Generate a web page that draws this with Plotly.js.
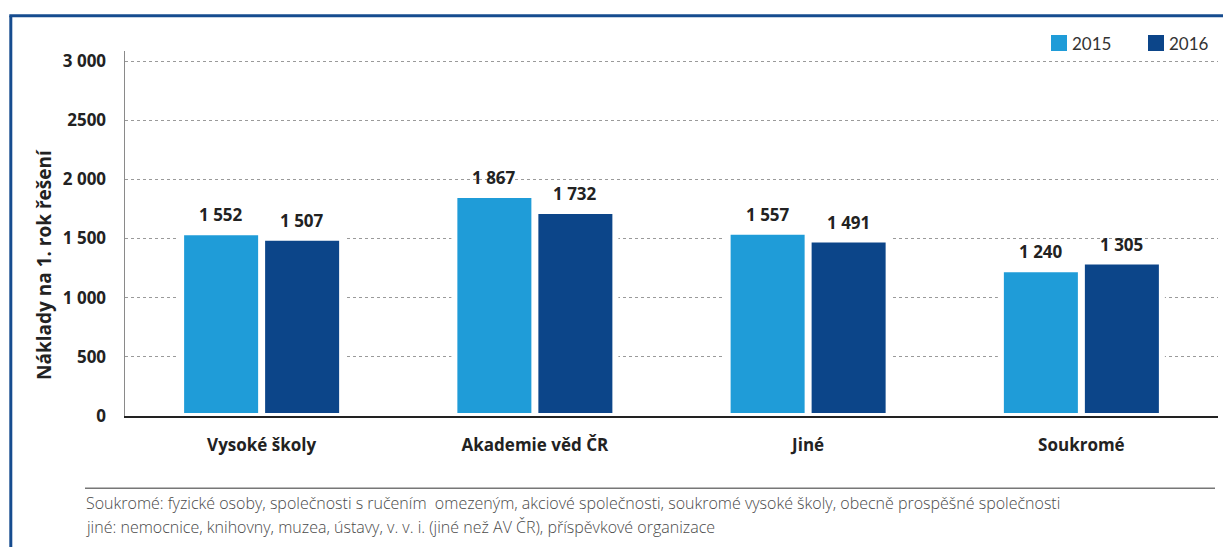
<!DOCTYPE html>
<html><head><meta charset="utf-8">
<script src="https://cdn.plot.ly/plotly-3.0.1.min.js"></script>
<style>html,body{margin:0;padding:0;background:#fff;} #chart{width:1223px;height:547px;}</style>
</head><body><div id="chart"></div>
<script>
const categories = ['Vysoké školy', 'Akademie věd ČR', 'Jiné', 'Soukromé'];
const seriesNames = ['2015', '2016'];
const values2015 = [1552, 1867, 1557, 1240];
const values2016 = [1507, 1732, 1491, 1305];
const valueLabels2015 = ['1 552', '1 867', '1 557', '1 240'];
const valueLabels2016 = ['1 507', '1 732', '1 491', '1 305'];
const yTickValues = [0, 500, 1000, 1500, 2000, 2500, 3000];
const yTickLabels = ['0', '500', '1 000', '1 500', '2 000', '2500', '3 000'];
const yAxisTitle = 'Náklady na 1. rok řešení';
const footnotes = [
  'Soukromé: fyzické osoby, společnosti s ručením \u00a0omezeným, akciové společnosti, soukromé vysoké školy, obecně prospěšné společnosti',
  'jiné: nemocnice, knihovny, muzea, ústavy, v. v. i. (jiné než AV ČR), příspěvkové organizace'
];

const colors = ['#1f9cd8', '#0c4589'];
const FONT = '"Open Sans", Lato, "DejaVu Sans", sans-serif';
const boldFont = {family: FONT, size: 17, color: '#222', weight: 700};

const L = 125, R = 5, T = 51, B = 131, W = 1223, H = 547;
const pw = W - L - R, ph = H - T - B;
const px = p => (p - L) / pw;
const py = p => (H - B - p) / ph;

const seriesValues = [values2015, values2016];
const seriesLabels = [valueLabels2015, valueLabels2016];

const traces = seriesNames.map((n, k) => ({
  type: 'bar', name: n, x: categories, y: seriesValues[k],
  marker: {color: colors[k], line: {color: '#ffffff', width: 6}},
  showlegend: false, hoverinfo: 'skip'
}));

const annotations = [];
seriesNames.forEach((n, k) => {
  categories.forEach((c, i) => {
    annotations.push({
      x: c, y: seriesValues[k][i], xref: 'x', yref: 'y',
      xshift: k === 0 ? -40.5 : 40.5, yshift: 4, yanchor: 'bottom', xanchor: 'center',
      text: seriesLabels[k][i], showarrow: false, font: boldFont
    });
  });
});
annotations.push({
  xref: 'paper', yref: 'paper', x: px(44), y: py(265), textangle: -90,
  xanchor: 'center', yanchor: 'middle', text: yAxisTitle, showarrow: false,
  font: {family: FONT, size: 19, color: '#222', weight: 700}
});
// legend
const legendSquares = [1051, 1148];
seriesNames.forEach((n, k) => {
  annotations.push({
    xref: 'paper', yref: 'paper', x: px(legendSquares[k] + 19), y: py(43),
    xanchor: 'left', yanchor: 'middle', text: n, showarrow: false,
    font: {family: 'Lato, sans-serif', size: 17, color: '#333'}
  });
});
footnotes.forEach((t, i) => {
  annotations.push({
    xref: 'paper', yref: 'paper', x: px(84), y: py(503 + 24 * i),
    xanchor: 'left', yanchor: 'middle', text: t, showarrow: false,
    font: {family: FONT, size: 16, color: '#4a4a4a', weight: 300}
  });
});

const shapes = [
  {type: 'line', xref: 'paper', yref: 'paper', x0: px(10.8), x1: px(10.8), y0: py(15.8), y1: py(560), line: {color: '#164c8f', width: 3}},
  {type: 'line', xref: 'paper', yref: 'paper', x0: px(9.3), x1: px(1240), y0: py(15.8), y1: py(15.8), line: {color: '#164c8f', width: 3}},
  {type: 'line', xref: 'paper', yref: 'paper', x0: px(85), x1: px(1215), y0: py(488.3), y1: py(488.3), line: {color: '#777', width: 1.5}}
];
seriesNames.forEach((n, k) => {
  shapes.push({type: 'rect', xref: 'paper', yref: 'paper', x0: px(legendSquares[k]), x1: px(legendSquares[k] + 16),
    y0: py(51), y1: py(35), fillcolor: colors[k], line: {width: 0}});
});

const layout = {
  width: W, height: H,
  margin: {l: L, r: R, t: T, b: B, pad: 0},
  paper_bgcolor: '#fff', plot_bgcolor: '#fff',
  barmode: 'group', bargap: 0.4071, bargroupgap: 0.0123,
  showlegend: false,
  xaxis: {
    type: 'category', showline: true, linecolor: '#222', linewidth: 1.5,
    ticks: '', showgrid: false, zeroline: false, tickfont: boldFont, ticklabelstandoff: 13,
    fixedrange: true
  },
  yaxis: {
    range: [0, 3084.5], tickmode: 'array', tickvals: yTickValues, ticktext: yTickLabels,
    showline: true, linecolor: '#8a8a8a', linewidth: 1.5,
    showgrid: true, gridcolor: '#9a9a9a', gridwidth: 1, griddash: 'dot',
    zeroline: false, ticks: '', tickfont: boldFont, ticklabelstandoff: 14, fixedrange: true
  },
  annotations: annotations,
  shapes: shapes
};

Plotly.newPlot('chart', traces, layout, {displayModeBar: false, staticPlot: true});
</script>
</body></html>
